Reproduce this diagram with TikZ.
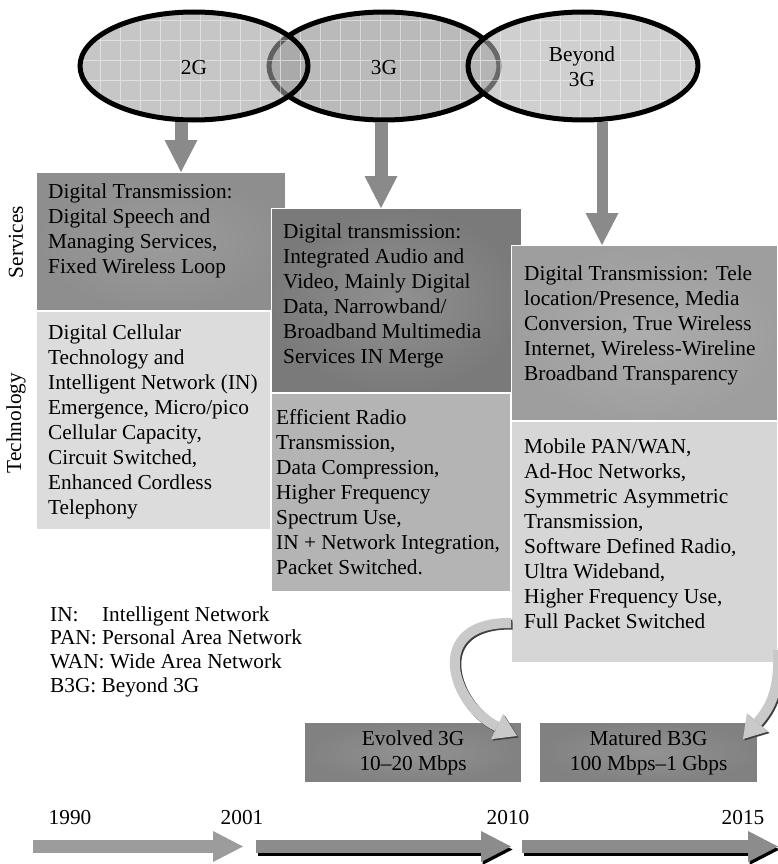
\documentclass[tikz,border=0pt]{standalone}
\usepackage{fontspec}
\setmainfont{Liberation Serif}
\usetikzlibrary{arrows.meta}

% panel and arrow shades
\definecolor{svcA}{HTML}{9C9C9C}
\definecolor{svcAedge}{HTML}{8E8E8E}
\definecolor{svcB}{HTML}{919191}
\definecolor{svcBedge}{HTML}{7A7A7A}
\definecolor{svcC}{HTML}{ADADAD}
\definecolor{svcCedge}{HTML}{9E9E9E}
\definecolor{tecA}{HTML}{DCDCDC}
\definecolor{tecB}{HTML}{B4B4B4}
\definecolor{tecC}{HTML}{D6D6D6}
\definecolor{genbox}{HTML}{939393}
\definecolor{genboxedge}{HTML}{818181}
\definecolor{arrowgray}{HTML}{8A8A8A}
\definecolor{curvegray}{HTML}{C9C9C9}
\definecolor{lineA}{HTML}{9C9C9C}
\definecolor{lineB}{HTML}{8C8C8C}
\definecolor{ellmid}{gray}{0.73}
\definecolor{ellleft}{gray}{0.627}
\definecolor{ellright}{gray}{0.69}

% left-aligned block of lines whose baseline is the first line
\newcommand{\textlines}[1]{\begin{tabular}[t]{@{}l@{}}#1\end{tabular}}

\begin{document}
\begin{tikzpicture}[x=1pt,y=-1pt,
  every node/.style={inner sep=0pt},
  panel/.style={draw=white, line width=1.2pt, anchor=north west},
  body/.style={anchor=base west, font=\fontsize{21.3}{25}\selectfont},
  legend/.style={anchor=base west, font=\fontsize{21.3}{23.8}\selectfont},
  lbl/.style={font=\fontsize{21.3}{25}\selectfont, align=center},
  ellline/.style={draw=black, line width=5pt},
  gridline/.style={draw=white, line width=0.8pt, opacity=0.45},
  downarrow/.style={draw=arrowgray, line width=13pt,
    -{Triangle[width=33pt,length=32pt,line width=0pt]}},
  timeline/.style={line width=13pt,
    -{Triangle[width=31pt,length=30pt,line width=0pt]}},
  curvebody/.style={draw=curvegray, line width=10pt,
    -{Triangle[width=28pt,length=22pt,line width=0pt]}},
  curveshade/.style={draw=black!75, line width=10pt,
    -{Triangle[width=28pt,length=22pt,line width=0pt]}},
]
\path[use as bounding box, fill=white] (0,0) rectangle (778,864);

% ---------- services / technology panels ----------
\node[panel, inner color=svcA, outer color=svcAedge, minimum width=249pt, minimum height=138pt] (s1) at (36,172) {};
\node[panel, fill=tecA, minimum width=234pt, minimum height=218pt] (t1) at (36,311) {};
\node[panel, inner color=svcB, outer color=svcBedge, minimum width=250pt, minimum height=184pt] (s2) at (271,208) {};
\node[panel, fill=tecB, minimum width=239pt, minimum height=198pt] (t2) at (271,393) {};
\node[panel, inner color=svcC, outer color=svcCedge, minimum width=266pt, minimum height=175pt] (s3) at (511,245) {};
\node[panel, fill=tecC, minimum width=266pt, minimum height=241pt] (t3) at (511,421) {};

\node[body] (s1txt) at (48,198) {\textlines{Digital Transmission:\\Digital Speech and\\Managing Services,\\Fixed Wireless Loop}};
\node[body] (t1txt) at (48,339) {\textlines{Digital Cellular\\Technology and\\Intelligent Network (IN)\\Emergence, Micro/pico\\Cellular Capacity,\\Circuit Switched,\\Enhanced Cordless\\Telephony}};
\node[body] (s2txt) at (283,238) {\textlines{Digital transmission:\\Integrated Audio and\\Video, Mainly Digital\\Data, Narrowband/\\Broadband Multimedia\\Services IN Merge}};
\node[body] (t2txt) at (276,424) {\textlines{Efficient Radio\\Transmission,\\Data Compression,\\Higher Frequency\\Spectrum Use,\\IN + Network Integration,\\Packet Switched.}};
\node[body] (s3txt) at (524,280) {\textlines{Digital Transmission: Tele\\location/Presence, Media\\Conversion, True Wireless\\Internet, Wireless-Wireline\\Broadband Transparency}};
\node[body] (t3txt) at (524,453) {\textlines{Mobile PAN/WAN,\\Ad-Hoc Networks,\\Symmetric Asymmetric\\Transmission,\\Software Defined Radio,\\Ultra Wideband,\\Higher Frequency Use,\\Full Packet Switched}};

% row labels
\node[lbl, rotate=90] (svc) at (16,242) {Services};
\node[lbl, rotate=90] (tech) at (16,423) {Technology};

% ---------- generation ellipses ----------
\fill[ellmid] (384,66) ellipse [x radius=115, y radius=54];
\begin{scope}
  \clip (384,66) ellipse [x radius=115, y radius=54];
  \draw[gridline, step=20pt] (260,0) grid (510,130);
\end{scope}
\draw[ellline] (384,66) ellipse [x radius=115, y radius=54];

\fill[ellleft, fill opacity=0.6] (194,66) ellipse [x radius=114, y radius=54];
\begin{scope}
  \clip (194,66) ellipse [x radius=114, y radius=54];
  \draw[gridline, step=20pt] (70,0) grid (320,130);
\end{scope}
\draw[ellline] (194,66) ellipse [x radius=114, y radius=54];

\fill[ellright, fill opacity=0.6] (583,66) ellipse [x radius=115, y radius=54];
\begin{scope}
  \clip (583,66) ellipse [x radius=115, y radius=54];
  \draw[gridline, step=20pt] (460,0) grid (710,130);
\end{scope}
\draw[ellline] (583,66) ellipse [x radius=115, y radius=54];

\node[lbl] (g2) at (194,68) {2G};
\node[lbl] (g3) at (384,68) {3G};
\node[lbl] (gb) at (582,67) {Beyond\\3G};

% ---------- arrows from generations to panels ----------
\coordinate (d1) at (181,122);
\coordinate (d2) at (381,122);
\coordinate (d3) at (602,122);
\draw[downarrow] (d1) -- (d1 |- s1.north);
\draw[downarrow] (d2) -- (d2 |- s2.north);
\draw[downarrow, line width=11pt] (d3) -- (d3 |- s3.north);

% ---------- abbreviations ----------
\node[legend] (leg) at (50,621) {\textlines{\rlap{IN:}\hphantom{PAN:}\ Intelligent Network\\PAN: Personal Area Network\\WAN: Wide Area Network\\B3G: Beyond 3G}};

% ---------- evolution targets ----------
\node[panel, inner color=genbox, outer color=genboxedge, minimum width=217pt, minimum height=60pt] (ev) at (304,722) {};
\node[panel, inner color=genbox, outer color=genboxedge, minimum width=218pt, minimum height=60pt] (mb) at (539,722) {};
\node[lbl] (evtxt) at (ev.center) {Evolved 3G\\10–20 Mbps};
\node[lbl] (mbtxt) at (mb.center) {Matured B3G\\100 Mbps–1 Gbps};

\coordinate (ca) at (511,623);
\coordinate (ea) at (517,736);
\coordinate (cb) at (778,650);
\coordinate (eb) at (743,739);
\draw[curveshade, transform canvas={shift={(1.5,1.5)}}] (ca) .. controls (425,622) and (452,705) .. (ea);
\draw[curvebody] (ca) .. controls (425,622) and (452,705) .. (ea);
\draw[curveshade, transform canvas={shift={(1.5,1.5)}}] (cb) .. controls (780,690) and (770,708) .. (eb);
\draw[curvebody] (cb) .. controls (780,690) and (770,708) .. (eb);

% ---------- time line ----------
\node[lbl] (y1990) at (70,818) {1990};
\node[lbl] (y2001) at (242,818) {2001};
\node[lbl] (y2010) at (508,818) {2010};
\node[lbl] (y2015) at (743,818) {2015};

\coordinate (p0) at (33,846.5);
\coordinate (p1) at (243,846.5);
\coordinate (p2) at (256,846.5);
\coordinate (p3) at (511,846.5);
\coordinate (p4) at (522,846.5);
\coordinate (p5) at (778,846.5);
\draw[timeline, draw=lineA] (p0) -- (p1);
\draw[timeline, draw=black, transform canvas={shift={(1.5,3)}}] (p2) -- (p3);
\draw[timeline, draw=lineB] (p2) -- (p3);
\draw[timeline, draw=black, transform canvas={shift={(1.5,3)}}] (p4) -- (p5);
\draw[timeline, draw=lineB] (p4) -- (p5);
\end{tikzpicture}
\end{document}
